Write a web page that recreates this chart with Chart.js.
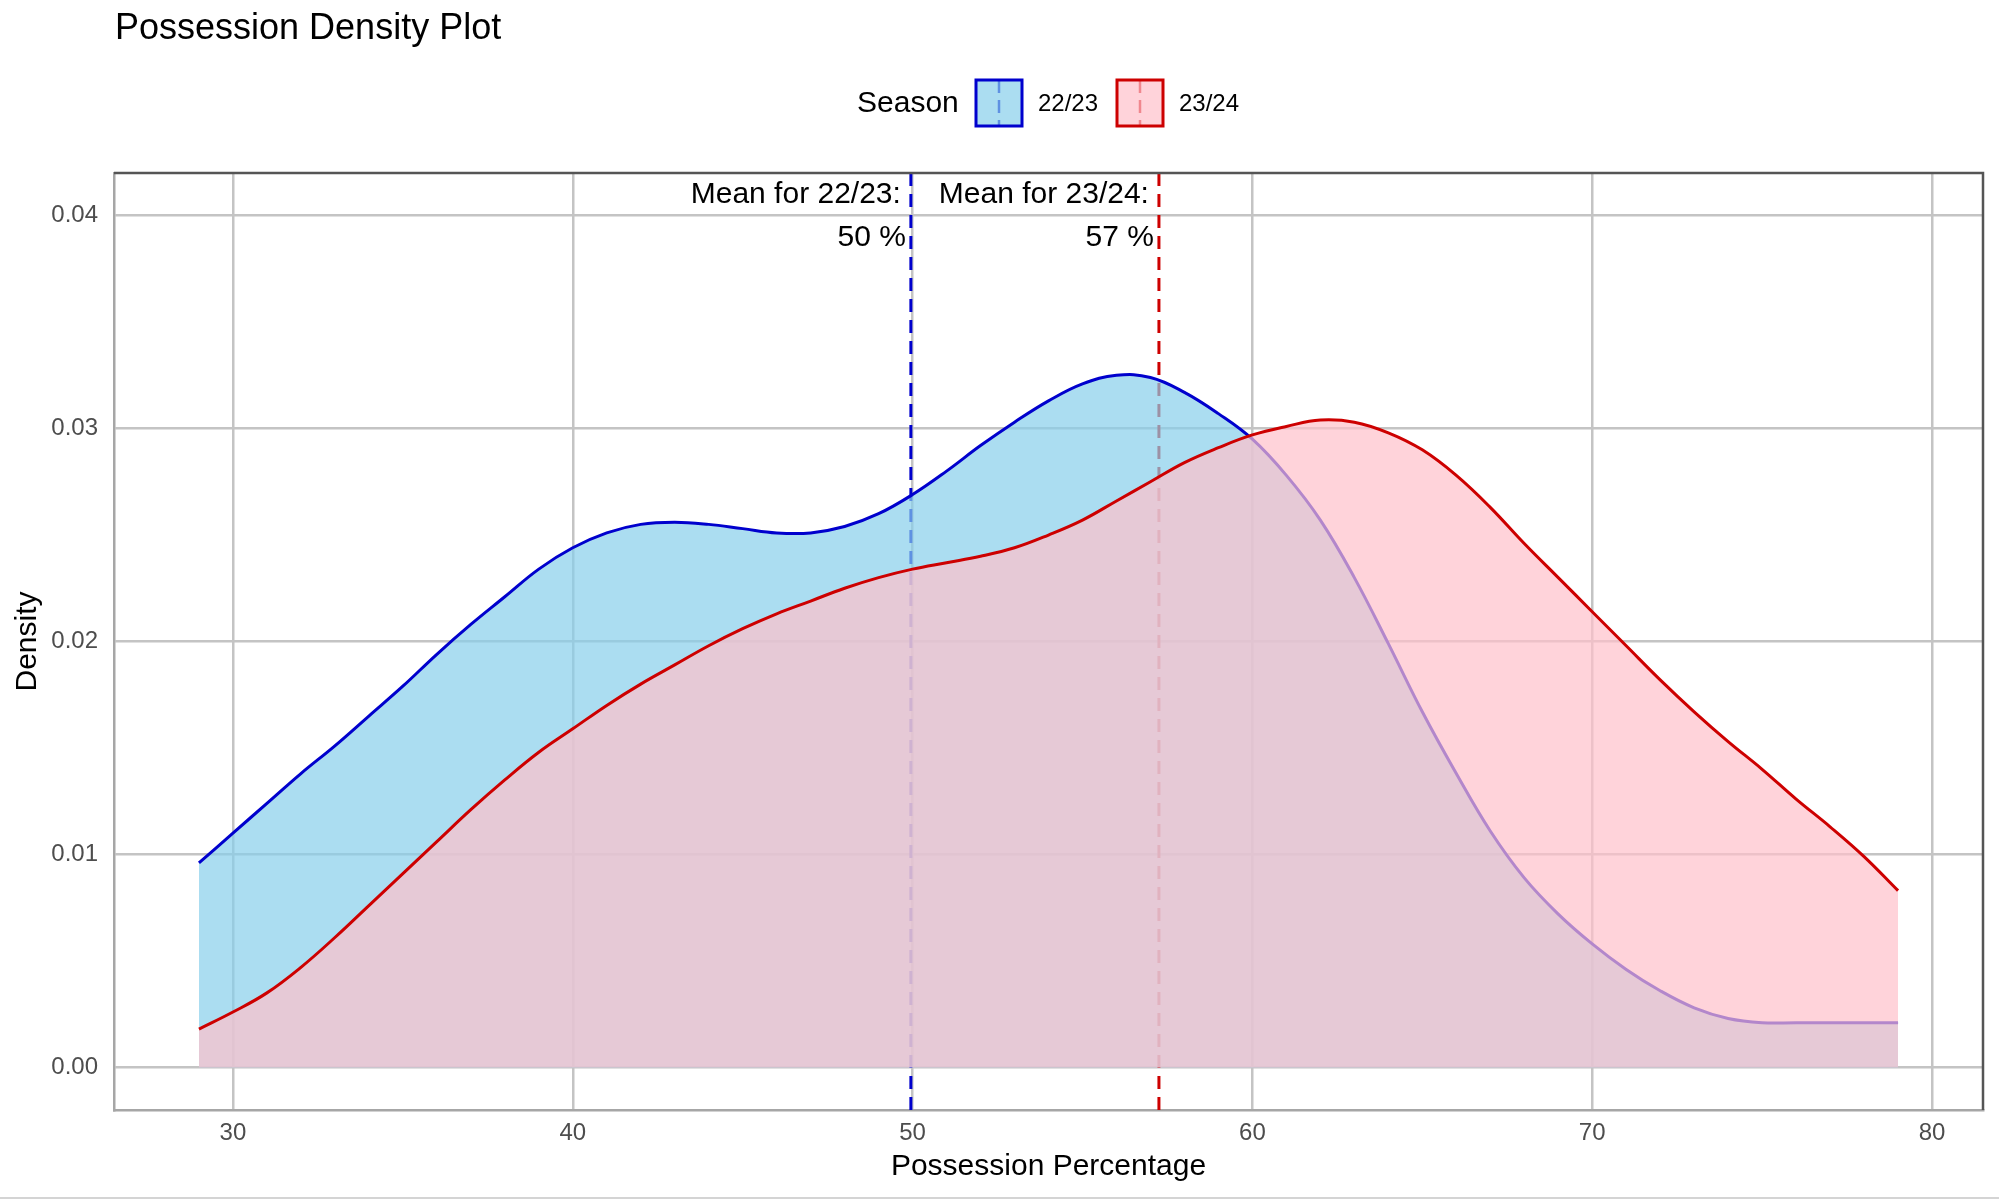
<!DOCTYPE html>
<html>
<head>
<meta charset="utf-8">
<title>Possession Density Plot</title>
<script src="https://cdn.jsdelivr.net/npm/chart.js@4.4.1/dist/chart.umd.min.js"></script>
<style>
  body { margin: 0; background: #fff; }
  #chart { display: block; }
</style>
</head>
<body>
<canvas id="chart" width="1999" height="1200"></canvas>
<script>
// values
const possession = [29, 30, 31, 32, 33, 34, 35, 36, 37, 38, 39, 40, 41, 42, 43, 44, 45, 46, 47, 48, 49,
  50, 51, 52, 53, 54, 55, 56, 57, 58, 59, 60, 61, 62, 63, 64, 65, 66, 67, 68, 69,
  70, 71, 72, 73, 74, 75, 76, 77, 78, 79];

const density2223 = [0.0096, 0.0110, 0.0124, 0.0138, 0.0151, 0.0165, 0.0179, 0.0194, 0.0208, 0.0221, 0.0234,
  0.0244, 0.0251, 0.0255, 0.0256, 0.0255, 0.0253, 0.0251, 0.0251, 0.0254, 0.0260,
  0.0269, 0.0280, 0.0292, 0.0303, 0.0313, 0.0321, 0.0325, 0.0324, 0.0317, 0.0307,
  0.0295, 0.0278, 0.0257, 0.0230, 0.0199, 0.0167, 0.0138, 0.0111, 0.0089, 0.0072,
  0.0058, 0.0046, 0.0036, 0.0028, 0.0023, 0.0021, 0.0021, 0.0021, 0.0021, 0.0021];

const density2324 = [0.0018, 0.0026, 0.0035, 0.0047, 0.0061, 0.0076, 0.0091, 0.0106, 0.0121, 0.0135, 0.0148,
  0.0159, 0.0170, 0.0180, 0.0189, 0.0198, 0.0206, 0.0213, 0.0219, 0.0225, 0.0230,
  0.0234, 0.0237, 0.0240, 0.0244, 0.0250, 0.0257, 0.0266, 0.0275, 0.0284, 0.0291,
  0.0297, 0.0301, 0.0304, 0.0303, 0.0298, 0.0290, 0.0278, 0.0263, 0.0246, 0.0230,
  0.0214, 0.0198, 0.0182, 0.0167, 0.0153, 0.0140, 0.0126, 0.0113, 0.0099, 0.0083];

const seasons = ["22/23", "23/24"];
const seasonMeans = [49.95, 57.25];
const meanLabels = ["50 %", "57 %"];

const xTicks = [30, 40, 50, 60, 70, 80];
const yTicks = [0, 0.01, 0.02, 0.03, 0.04];

const lineColors = ["#0000cd", "#cd0000"];
const fillColors = ["rgba(135, 206, 235, 0.7)", "rgba(255, 192, 203, 0.7)"];
const FONT = "'Liberation Sans', Arial, Helvetica, sans-serif";

function toPoints(ys) {
  return possession.map((x, i) => ({ x: x, y: ys[i] }));
}

// dashed mean lines sit under the density areas
const meanLines = {
  id: "meanLines",
  beforeDatasetsDraw(chart) {
    const { ctx, chartArea, scales } = chart;
    ctx.save();
    ctx.lineWidth = 3;
    ctx.setLineDash([13, 8]);
    seasonMeans.forEach((m, i) => {
      const x = scales.x.getPixelForValue(m);
      ctx.strokeStyle = lineColors[i];
      ctx.beginPath();
      ctx.moveTo(x, chartArea.top);
      ctx.lineTo(x, chartArea.bottom);
      ctx.stroke();
    });
    ctx.restore();
  },
  afterDatasetsDraw(chart) {
    const { ctx, scales } = chart;
    ctx.save();
    ctx.fillStyle = "#000";
    ctx.textAlign = "right";
    ctx.textBaseline = "middle";
    ctx.font = "30px " + FONT;
    seasonMeans.forEach((m, i) => {
      const x = scales.x.getPixelForValue(m);
      ctx.fillText("Mean for " + seasons[i] + ":", x - 10, 195);
      ctx.fillText(meanLabels[i], x - 5, 238);
    });
    ctx.restore();
  }
};

// title, legend and panel frame, ggplot style
const decorations = {
  id: "decorations",
  afterDraw(chart) {
    const { ctx, chartArea } = chart;
    ctx.save();

    ctx.fillStyle = "#000";
    ctx.textAlign = "left";
    ctx.textBaseline = "middle";
    ctx.font = "36px " + FONT;
    ctx.fillText("Possession Density Plot", 115, 29);

    ctx.font = "30px " + FONT;
    ctx.fillText("Season", 857, 104);

    const boxX = [976, 1117];
    const labX = [1038, 1179];
    seasons.forEach((s, i) => {
      const bx = boxX[i], by = 80, bs = 46;
      ctx.setLineDash([13, 7]);
      ctx.lineWidth = 2.5;
      ctx.strokeStyle = lineColors[i];
      ctx.beginPath();
      ctx.moveTo(bx + bs / 2, by);
      ctx.lineTo(bx + bs / 2, by + bs);
      ctx.stroke();
      ctx.setLineDash([]);
      ctx.fillStyle = fillColors[i];
      ctx.fillRect(bx, by, bs, bs);
      ctx.lineWidth = 3;
      ctx.strokeRect(bx, by, bs, bs);
      ctx.fillStyle = "#000";
      ctx.font = "24px " + FONT;
      ctx.fillText(s, labX[i], 104);
    });

    ctx.lineWidth = 2.5;
    ctx.strokeStyle = "#555";
    ctx.beginPath();
    ctx.moveTo(chartArea.left, chartArea.top);
    ctx.lineTo(chartArea.right, chartArea.top);
    ctx.lineTo(chartArea.right, chartArea.bottom);
    ctx.stroke();

    ctx.strokeStyle = "#d4d4d4";
    ctx.lineWidth = 2;
    ctx.beginPath();
    ctx.moveTo(0, 1198);
    ctx.lineTo(chart.width, 1198);
    ctx.stroke();
    ctx.restore();
  }
};

new Chart(document.getElementById("chart"), {
  type: "line",
  data: {
    datasets: [
      {
        label: seasons[0],
        data: toPoints(density2223),
        borderColor: lineColors[0],
        backgroundColor: fillColors[0],
        fill: "origin",
        order: 1
      },
      {
        label: seasons[1],
        data: toPoints(density2324),
        borderColor: lineColors[1],
        backgroundColor: fillColors[1],
        fill: "origin",
        order: 0
      }
    ]
  },
  options: {
    responsive: false,
    animation: false,
    devicePixelRatio: 1,
    layout: { padding: { left: 0, right: 16, top: 173, bottom: 0 } },
    elements: {
      point: { radius: 0 },
      line: { borderWidth: 3, tension: 0.4 }
    },
    plugins: {
      legend: { display: false },
      title: { display: false },
      tooltip: { enabled: false }
    },
    scales: {
      x: {
        type: "linear",
        min: 26.5,
        max: 81.5,
        afterBuildTicks(axis) { axis.ticks = xTicks.map(v => ({ value: v })); },
        afterFit(axis) { axis.height = 90; },
        grid: { color: "#c4c4c4", lineWidth: 2.5, drawTicks: false },
        border: { display: true, color: "#a6a6a6", width: 2.5 },
        ticks: { padding: 9, color: "#4d4d4d", font: { family: FONT, size: 24 } },
        title: {
          display: true,
          text: "Possession Percentage",
          color: "#000",
          font: { family: FONT, size: 30 },
          padding: { top: 0, bottom: 15 }
        }
      },
      y: {
        min: -0.002,
        max: 0.042,
        afterBuildTicks(axis) { axis.ticks = yTicks.map(v => ({ value: v })); },
        afterFit(axis) { axis.width = 114; },
        grid: { color: "#c4c4c4", lineWidth: 2.5, drawTicks: false },
        border: { display: true, color: "#a6a6a6", width: 2.5 },
        ticks: {
          padding: 16,
          color: "#4d4d4d",
          font: { family: FONT, size: 24 },
          callback: v => v.toFixed(2)
        },
        title: {
          display: true,
          text: "Density",
          color: "#000",
          font: { family: FONT, size: 30 },
          padding: { top: 10, bottom: 0 }
        }
      }
    }
  },
  plugins: [meanLines, decorations]
});
</script>
</body>
</html>
